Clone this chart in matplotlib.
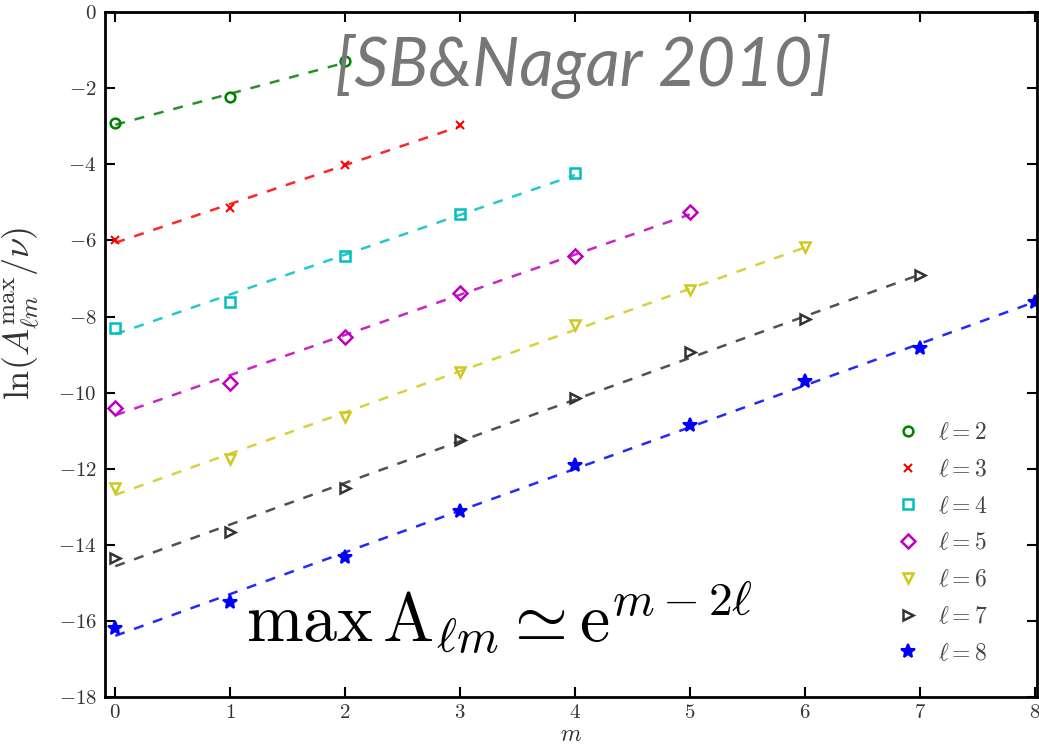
import numpy as np
import matplotlib
matplotlib.use("Agg")
import matplotlib.pyplot as plt

# ------------------------------------------------------------
# data: ln(A_lm^max / nu) against m
# ------------------------------------------------------------
ells = [2, 3, 4, 5, 6, 7, 8]

amp_l2 = [-2.92, -2.23, -1.29]
amp_l3 = [-5.99, -5.15, -4.02, -2.97]
amp_l4 = [-8.30, -7.62, -6.41, -5.31, -4.23]
amp_l5 = [-10.40, -9.75, -8.54, -7.38, -6.41, -5.25]
amp_l6 = [-12.51, -11.74, -10.64, -9.46, -8.22, -7.30, -6.17]
amp_l7 = [-14.35, -13.66, -12.51, -11.25, -10.14, -8.93, -8.07, -6.91]
amp_l8 = [-16.18, -15.50, -14.32, -13.11, -11.90, -10.85, -9.70, -8.83, -7.62]

series = [amp_l2, amp_l3, amp_l4, amp_l5, amp_l6, amp_l7, amp_l8]

colors = ["#008000", "#ff0000", "#00bfbf", "#bf00bf", "#d0c820", "#333333", "#0000ff"]
markers = ["o", "x", "s", "D", "v", ">", "*"]

x_ticks = [0, 1, 2, 3, 4, 5, 6, 7, 8]
y_ticks = [0, -2, -4, -6, -8, -10, -12, -14, -16, -18]

plt.rcParams["font.family"] = "cmr10"
plt.rcParams["mathtext.fontset"] = "cm"
plt.rcParams["axes.formatter.use_mathtext"] = True

fig = plt.figure(figsize=(10.39, 7.49), dpi=100)
ax = fig.add_axes([0.101, 0.069, 0.897, 0.915])

for ell, vals, c, mk in zip(ells, series, colors, markers):
    m = np.arange(len(vals))
    fit = np.polyfit(m, vals, 1)
    ax.plot(m, np.polyval(fit, m), "--", color=c, lw=1.8, dashes=(4, 4), alpha=0.85)
    if mk in ("x", "*"):
        ax.plot(m, vals, mk, color=c, ms=6 if mk == "x" else 10, mew=1.5,
                linestyle="none", label=r"$\ell=%d$" % ell)
    else:
        ax.plot(m, vals, mk, mec=c, mfc="none", ms=7, mew=1.8,
                linestyle="none", label=r"$\ell=%d$" % ell)

ax.set_xlim(-0.09, 8.02)
ax.set_ylim(-18, 0)
ax.set_xticks(x_ticks)
ax.set_yticks(y_ticks)
ax.tick_params(direction="in", top=True, right=True, length=7, width=1.5,
               labelsize=15, labelcolor="#333333", pad=6)
ax.tick_params(axis="x", pad=5)
for sp in ax.spines.values():
    sp.set_linewidth(2)

ax.set_xlabel(r"$m$", fontsize=17, color="#333333", labelpad=1)
ax.set_ylabel(r"$\ln(A^{\max}_{\ell m}/\nu)$", fontsize=26, color="#333333")
ax.yaxis.set_label_coords(-0.068, 0.56)

leg = ax.legend(loc="lower right", numpoints=1, frameon=False, fontsize=17,
                handletextpad=0.5, labelspacing=0.62, borderaxespad=0.4,
                handlelength=1.6, bbox_to_anchor=(0.968, 0.02))
for t in leg.get_texts():
    t.set_color("#444444")

ax.text(0.151, 0.08, r"$\max\,\mathrm{A}_{\ell m} \simeq \mathrm{e}^{m-2\ell}$",
        transform=ax.transAxes, fontsize=49, color="black")

fig.text(0.322, 0.885, "[SB&Nagar 2010]", fontsize=48, color="#777777",
         family="Lato", style="italic")

fig.savefig("out.png", dpi=100)
